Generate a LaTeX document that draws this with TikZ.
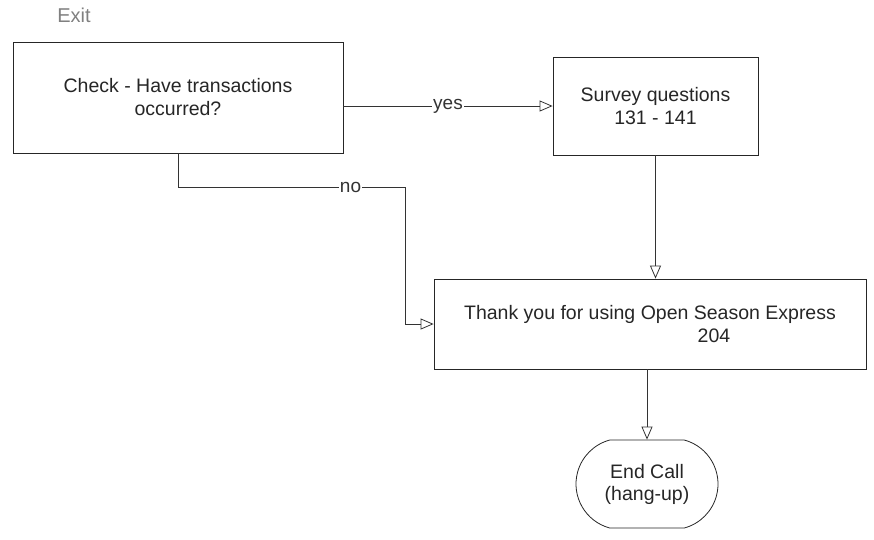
\documentclass[tikz,border=0pt]{standalone}
\usepackage{fontspec}
\setmainfont{Liberation Sans}
\usetikzlibrary{arrows.meta,shapes.misc}
\tikzset{
  box/.style={draw=black!85, line width=0.8pt, rectangle, align=center, inner sep=0pt,
    font=\fontsize{19.5}{23}\selectfont, text=black!85},
  terminal/.style={draw=black!85, line width=0.8pt, rounded rectangle, rounded rectangle arc length=150, align=center, inner sep=0pt,
    font=\fontsize{19.5}{22}\selectfont, text=black!85},
  conn/.style={draw=black!80, line width=0.8pt, -{Triangle[open, length=13pt, width=11pt]}},
  lab/.style={fill=white, inner sep=1pt, font=\fontsize{19}{23}\selectfont, text=black!80},
  titletext/.style={font=\fontsize{20}{24}\selectfont, text=black!50}
}
\begin{document}
\begin{tikzpicture}[x=1pt,y=-1pt]
\useasboundingbox (0,0) rectangle (874,539);
\node[titletext] (exit) at (74,15) {Exit};
\node[box, minimum width=330pt, minimum height=111pt] (check) at (178,97.5)
  {Check - Have transactions\\occurred?};
\node[box, minimum width=205pt, minimum height=98pt] (survey) at (655.5,106)
  {Survey questions\\131 - 141};
\node[box, minimum width=432pt, minimum height=90pt] (thanks) at (650,324)
  {Thank you for using Open Season Express\\\hspace*{128pt}204};
\node[terminal, minimum width=142pt, minimum height=88pt] (endcall) at (647,484)
  {End Call\\(hang-up)};
\coordinate (nocorner) at (405,187);
\draw[conn] (check.east |- survey.west) -- node[lab]{yes} (survey.west);
\draw[conn] (check.south) |- node[lab, pos=0.88]{no} (nocorner) |- (thanks.west);
\draw[conn] (survey.south) -- (survey.south |- thanks.north);
\draw[conn] (endcall.north |- thanks.south) -- (endcall.north);
\end{tikzpicture}
\end{document}
